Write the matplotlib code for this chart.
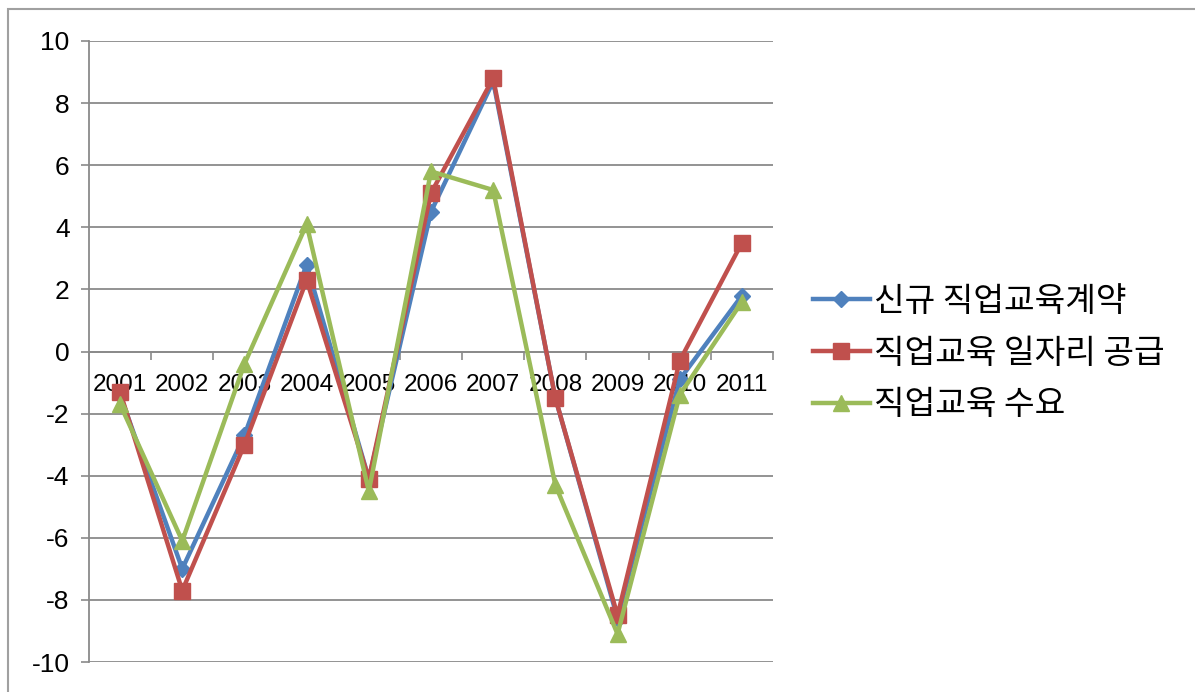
import matplotlib

matplotlib.use("Agg")
import matplotlib.pyplot as plt
from matplotlib.patches import Rectangle

YEARS = ["2001", "2002", "2003", "2004", "2005", "2006", "2007", "2008", "2009", "2010", "2011"]
NEW_CONTRACTS = [-1.4, -7.0, -2.7, 2.8, -4.1, 4.5, 8.7, -1.5, -8.6, -0.9, 1.8]
JOB_SUPPLY = [-1.3, -7.7, -3.0, 2.3, -4.1, 5.1, 8.8, -1.5, -8.5, -0.3, 3.5]
DEMAND = [-1.7, -6.1, -0.4, 4.1, -4.5, 5.8, 5.2, -4.3, -9.1, -1.4, 1.6]
LABELS = ["신규 직업교육계약", "직업교육 일자리 공급", "직업교육 수요"]
YTICKS = list(range(-10, 11, 2))

NUM_FONT = "Liberation Sans"
KR_FONT = ["Noto Sans CJK KR", "DejaVu Sans"]
GREY = "#8a8a8a"

fig = plt.figure(figsize=(11.95, 6.92), dpi=100)
ax = fig.add_axes([89 / 1195, 1 - 662 / 692, (773 - 89) / 1195, (662 - 41) / 692])

x = list(range(len(YEARS)))
series = [
    (NEW_CONTRACTS, "#4F81BD", "D", 8),
    (JOB_SUPPLY, "#C0504D", "s", 12),
    (DEMAND, "#9BBB59", "^", 11),
]
for (vals, col, mk, ms), lab in zip(series, LABELS):
    ax.plot(x, vals, color=col, lw=3.2, marker=mk, ms=ms, mec=col, mfc=col,
            label=lab, zorder=3, clip_on=False)

ax.set_xlim(-0.5, len(YEARS) - 0.5)
ax.set_ylim(-10, 10)
ax.set_yticks(YTICKS, [str(v) for v in YTICKS])
ax.yaxis.grid(True, color=GREY, lw=1.3)

# category boundaries carry the tick marks, centres carry the year labels
ax.set_xticks([i - 0.5 for i in range(len(YEARS) + 1)], [""] * (len(YEARS) + 1))
ax.set_xticks(x, YEARS, minor=True)
ax.tick_params(axis="x", which="minor", length=0, pad=16,
               labelsize=17.5, labelfontfamily=NUM_FONT)
ax.tick_params(axis="x", which="major", length=6, color=GREY, width=1.2)
ax.tick_params(axis="y", length=6, color=GREY, width=1.2, pad=8,
               labelsize=19, labelfontfamily=NUM_FONT)

for s in ("top", "right"):
    ax.spines[s].set_visible(False)
ax.spines["bottom"].set_position(("data", 0))
for s in ("bottom", "left"):
    ax.spines[s].set_color(GREY)
    ax.spines[s].set_linewidth(1.3)

fig.legend(loc="center left", bbox_to_anchor=(813 / 1195, 1 - 353 / 692),
           frameon=False, prop={"family": KR_FONT, "size": 24},
           handlelength=1.7, handletextpad=0.12, labelspacing=0.5,
           borderaxespad=0, borderpad=0)

fig.patches.append(Rectangle((8 / 1195, -0.1), 1.2, 1 - 9 / 692 + 0.1, transform=fig.transFigure,
                             fill=False, ec="#a0a0a0", lw=1.5))

fig.savefig("out.png", dpi=100)
